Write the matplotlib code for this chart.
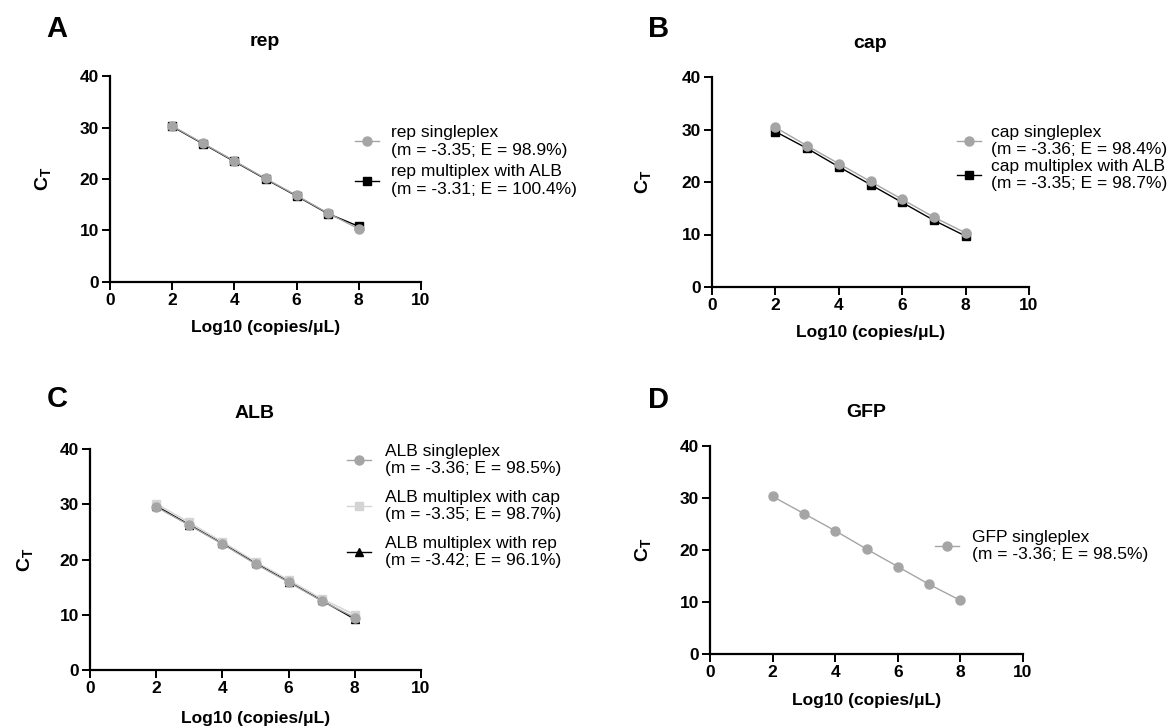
import matplotlib
matplotlib.use("Agg")
import matplotlib.pyplot as plt

# ── data ──────────────────────────────────────────────────────────────────────
log_copies = [2, 3, 4, 5, 6, 7, 8]

rep_single = [30.3, 26.9, 23.5, 20.1, 16.8, 13.4, 10.3]
rep_multi_alb = [30.2, 26.8, 23.4, 20.0, 16.7, 13.3, 10.8]

cap_single = [30.4, 26.9, 23.5, 20.1, 16.7, 13.3, 10.3]
cap_multi_alb = [29.6, 26.4, 22.9, 19.5, 16.1, 12.7, 9.7]

alb_single = [29.5, 26.2, 22.8, 19.2, 15.9, 12.5, 9.5]
alb_multi_cap = [30.1, 26.7, 23.2, 19.6, 16.3, 12.9, 10.0]
alb_multi_rep = [29.7, 26.3, 22.9, 19.4, 16.0, 12.6, 9.2]

gfp_single = [30.3, 27.0, 23.7, 20.2, 16.8, 13.4, 10.3]

x_ticks = [0, 2, 4, 6, 8, 10]
y_ticks = [0, 10, 20, 30, 40]

W, H = 1175, 727
GRAY = "#a5a5a5"
LIGHT = "#d4d4d4"
LEG_FS = 12.5

plt.rcParams["font.family"] = ["Liberation Sans", "DejaVu Sans"]
plt.rcParams["mathtext.fontset"] = "custom"
plt.rcParams["mathtext.rm"] = "Liberation Sans"
plt.rcParams["mathtext.bf"] = "Liberation Sans:bold"

fig = plt.figure(figsize=(W / 100, H / 100), dpi=100)


def fx(px):
    return px / W


def fy(py):
    return 1 - py / H


def make_axes(box, letter, letter_xy, title, title_xy, xlab_y, ylab_x):
    x0, y0, x1, y1 = box
    ax = fig.add_axes([fx(x0), fy(y1), fx(x1 - x0), (y1 - y0) / H])
    ax.set_xlim(0, 10)
    ax.set_ylim(0, 40)
    ax.set_xticks(x_ticks)
    ax.set_yticks(y_ticks)
    for s in ("top", "right"):
        ax.spines[s].set_visible(False)
    for s in ("left", "bottom"):
        ax.spines[s].set_linewidth(1.6)
    ax.tick_params(length=6, width=1.4, labelsize=12.5, pad=2)
    for lab in ax.get_xticklabels() + ax.get_yticklabels():
        lab.set_fontweight("bold")
    ax.set_xlabel("Log10 (copies/μL)", fontsize=12.5, fontweight="bold")
    ax.xaxis.set_label_coords(0.5, (y1 - xlab_y) / (y1 - y0))
    ax.set_ylabel(r"$\mathbf{C_T}$", fontsize=14)
    ax.yaxis.set_label_coords((ylab_x - x0) / (x1 - x0), 0.5)
    ax.xaxis.label.set_va("center")
    ax.yaxis.label.set_va("center")
    fig.text(fx(letter_xy[0]), fy(letter_xy[1]), letter, fontsize=21,
             fontweight="bold", ha="center", va="center")
    fig.text(fx(title_xy[0]), fy(title_xy[1]), title, fontsize=14,
             fontweight="bold", ha="center", va="center")
    return ax


def add_legend(ax, anchor, spacing, textpad):
    # legend order in the reference is the reverse of the drawing order
    h, l = ax.get_legend_handles_labels()
    leg = ax.legend(h[::-1], l[::-1], loc="center left",
                    bbox_to_anchor=(fx(anchor[0]), fy(anchor[1])),
                    bbox_transform=fig.transFigure, frameon=False,
                    fontsize=LEG_FS, borderpad=0, borderaxespad=0,
                    handlelength=1.4, handletextpad=textpad,
                    labelspacing=spacing)
    for t in leg.get_texts():
        t.set_linespacing(1.2)


# ── A: rep ────────────────────────────────────────────────────────────────────
ax = make_axes((110, 76, 421, 282), "A", (57, 29), "rep", (265, 42), 328, 43)
ax.plot(log_copies, rep_multi_alb, color="black", lw=1, marker="s", ms=6,
        label="rep multiplex with ALB\n(m = -3.31; E = 100.4%)", zorder=2)
ax.plot(log_copies, rep_single, color=GRAY, lw=1, marker="o", ms=6.5,
        label="rep singleplex\n(m = -3.35; E = 98.9%)", zorder=3)
add_legend(ax, (355, 161), 0.4, 0.65)

# ── B: cap ────────────────────────────────────────────────────────────────────
ax = make_axes((712, 77, 1029, 287), "B", (659, 29), "cap", (870, 43), 333, 643)
ax.plot(log_copies, cap_multi_alb, color="black", lw=1, marker="s", ms=6,
        label="cap multiplex with ALB\n(m = -3.35; E = 98.7%)", zorder=2)
ax.plot(log_copies, cap_single, color=GRAY, lw=1, marker="o", ms=6.5,
        label="cap singleplex\n(m = -3.36; E = 98.4%)", zorder=3)
add_legend(ax, (957, 158), 0.1, 0.55)

# ── C: ALB ────────────────────────────────────────────────────────────────────
ax = make_axes((90, 449, 421, 670), "C", (57, 399), "ALB", (255, 414), 718, 25)
ax.plot(log_copies, alb_multi_rep, color="black", lw=1, marker="^", ms=6,
        label="ALB multiplex with rep\n(m = -3.42; E = 96.1%)", zorder=2)
ax.plot(log_copies, alb_multi_cap, color=LIGHT, lw=1, marker="s", ms=6,
        label="ALB multiplex with cap\n(m = -3.35; E = 98.7%)", zorder=3)
ax.plot(log_copies, alb_single, color=GRAY, lw=1, marker="o", ms=6.5,
        label="ALB singleplex\n(m = -3.36; E = 98.5%)", zorder=4)
add_legend(ax, (347, 506), 0.8, 0.8)

# ── D: GFP ────────────────────────────────────────────────────────────────────
ax = make_axes((710, 446, 1023, 654), "D", (659, 400), "GFP", (866, 412), 700, 643)
ax.plot(log_copies, gfp_single, color=GRAY, lw=1, marker="o", ms=6.5,
        label="GFP singleplex\n(m = -3.36; E = 98.5%)")
add_legend(ax, (935, 546), 0.5, 0.75)

fig.savefig("out.png", dpi=100)
